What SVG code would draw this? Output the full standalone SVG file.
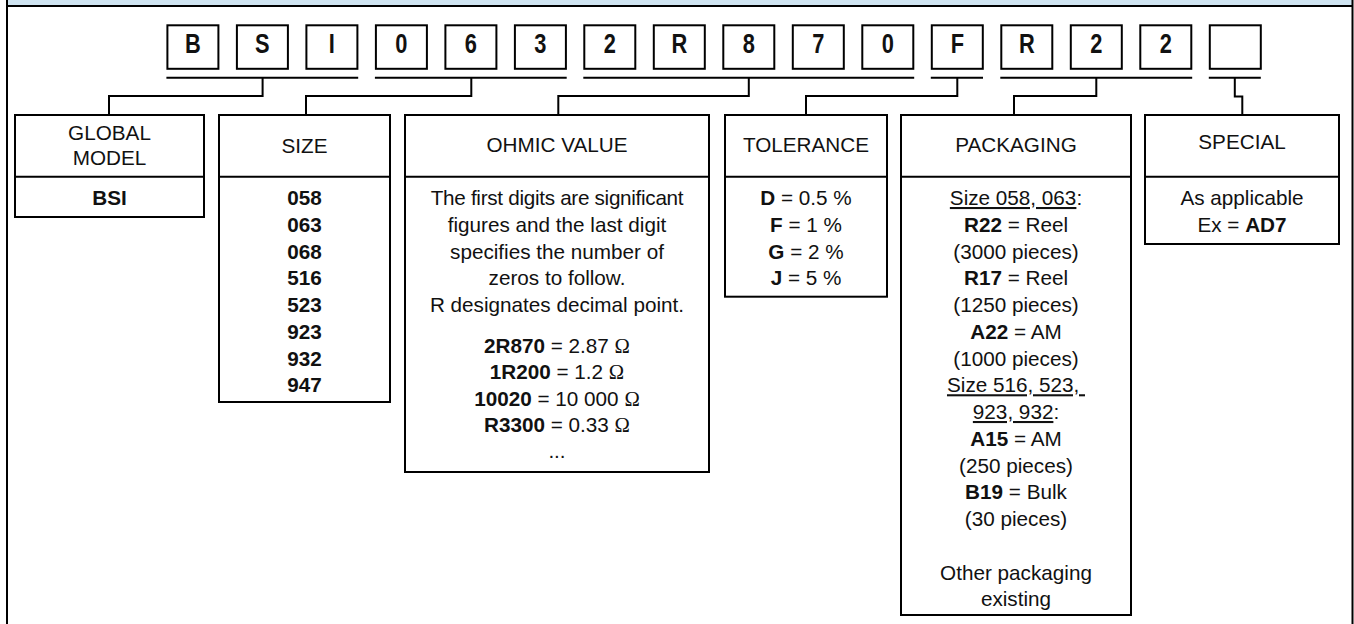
<svg xmlns="http://www.w3.org/2000/svg" width="1354" height="624" viewBox="0 0 1354 624">
<style>
.f{fill:none;stroke:#000;stroke-width:2}
.b{fill:#fff;stroke:#000;stroke-width:2}
.c{fill:none;stroke:#000;stroke-width:2}
.t{font-family:"Liberation Sans",Arial,Helvetica,sans-serif;font-size:20.7px;fill:#111;text-anchor:middle}
.k{font-family:"Liberation Sans",Arial,Helvetica,sans-serif;font-size:28px;font-weight:bold;fill:#111;text-anchor:middle}
.bd{font-weight:bold}
.om{font-family:"Liberation Serif","Times New Roman",serif}
.u{text-decoration:underline}
</style>
<rect width="1354" height="624" fill="#fff"/>
<g id="frame">
<rect x="7" y="0" width="1346" height="6" fill="#cfe4f1"/>
<line class="f" x1="7" y1="6" x2="1353" y2="6"/>
<line class="f" x1="7" y1="0" x2="7" y2="624"/>
<line class="f" x1="1352.5" y1="0" x2="1352.5" y2="624"/>
</g>
<g id="code">
<g id="c0"><rect class="b" x="167.4" y="25.3" width="51" height="43.5"/><text class="k" transform="translate(192.9,52.5) scale(0.78,1)">B</text></g>
<g id="c1"><rect class="b" x="236.9" y="25.3" width="51" height="43.5"/><text class="k" transform="translate(262.4,52.5) scale(0.78,1)">S</text></g>
<g id="c2"><rect class="b" x="306.4" y="25.3" width="51" height="43.5"/><text class="k" transform="translate(331.9,52.5) scale(0.78,1)">I</text></g>
<g id="c3"><rect class="b" x="375.9" y="25.3" width="51" height="43.5"/><text class="k" transform="translate(401.4,52.5) scale(0.78,1)">0</text></g>
<g id="c4"><rect class="b" x="445.4" y="25.3" width="51" height="43.5"/><text class="k" transform="translate(470.9,52.5) scale(0.78,1)">6</text></g>
<g id="c5"><rect class="b" x="514.9" y="25.3" width="51" height="43.5"/><text class="k" transform="translate(540.4,52.5) scale(0.78,1)">3</text></g>
<g id="c6"><rect class="b" x="584.3" y="25.3" width="51" height="43.5"/><text class="k" transform="translate(609.8,52.5) scale(0.78,1)">2</text></g>
<g id="c7"><rect class="b" x="653.8" y="25.3" width="51" height="43.5"/><text class="k" transform="translate(679.3,52.5) scale(0.78,1)">R</text></g>
<g id="c8"><rect class="b" x="723.3" y="25.3" width="51" height="43.5"/><text class="k" transform="translate(748.8,52.5) scale(0.78,1)">8</text></g>
<g id="c9"><rect class="b" x="792.8" y="25.3" width="51" height="43.5"/><text class="k" transform="translate(818.3,52.5) scale(0.78,1)">7</text></g>
<g id="c10"><rect class="b" x="862.3" y="25.3" width="51" height="43.5"/><text class="k" transform="translate(887.8,52.5) scale(0.78,1)">0</text></g>
<g id="c11"><rect class="b" x="931.8" y="25.3" width="51" height="43.5"/><text class="k" transform="translate(957.3,52.5) scale(0.78,1)">F</text></g>
<g id="c12"><rect class="b" x="1001.3" y="25.3" width="51" height="43.5"/><text class="k" transform="translate(1026.8,52.5) scale(0.78,1)">R</text></g>
<g id="c13"><rect class="b" x="1070.8" y="25.3" width="51" height="43.5"/><text class="k" transform="translate(1096.3,52.5) scale(0.78,1)">2</text></g>
<g id="c14"><rect class="b" x="1140.3" y="25.3" width="51" height="43.5"/><text class="k" transform="translate(1165.8,52.5) scale(0.78,1)">2</text></g>
<g id="c15"><rect class="b" x="1209.8" y="25.3" width="51" height="43.5"/></g>
</g>
<g id="connectors">
<path class="c" d="M166.4 77.7H358.2M262.6 77.7V96H109V114"/>
<path class="c" d="M374.9 77.7H566.7M471.3 77.7V96H306V114"/>
<path class="c" d="M583.3 77.7H914.2M748.8 77.7V96H558.3V114"/>
<path class="c" d="M930.8 77.7H983M957.3 77.7V96H806V114"/>
<path class="c" d="M1000.3 77.7H1192.2M1096.3 77.7V96H1014V114"/>
<path class="c" d="M1208.8 77.7H1260.8M1234.8 77.7V96.5H1242.3V114"/>
</g>
<g id="global">
<rect class="b" x="15" y="115" width="189" height="102"/>
<line class="f" x1="15" y1="176.7" x2="204" y2="176.7"/>
<text class="t" x="109.5" y="140">GLOBAL</text>
<text class="t" x="109.5" y="165">MODEL</text>
<text class="t bd" x="109.5" y="205">BSI</text>
</g>
<g id="size">
<rect class="b" x="219" y="115" width="171" height="287"/>
<line class="f" x1="219" y1="176.7" x2="390" y2="176.7"/>
<text class="t" x="304.5" y="153.4">SIZE</text>
<text class="t bd" x="304.5" y="205">058</text>
<text class="t bd" x="304.5" y="231.75">063</text>
<text class="t bd" x="304.5" y="258.5">068</text>
<text class="t bd" x="304.5" y="285.25">516</text>
<text class="t bd" x="304.5" y="312">523</text>
<text class="t bd" x="304.5" y="338.75">923</text>
<text class="t bd" x="304.5" y="365.5">932</text>
<text class="t bd" x="304.5" y="392.25">947</text>
</g>
<g id="ohmic">
<rect class="b" x="405" y="115" width="304" height="357"/>
<line class="f" x1="405" y1="176.7" x2="709" y2="176.7"/>
<text class="t" x="557" y="151.7">OHMIC VALUE</text>
<text class="t" x="557" y="205" letter-spacing="-0.3">The first digits are significant</text>
<text class="t" x="557" y="231.75">figures and the last digit</text>
<text class="t" x="557" y="258.5">specifies the number of</text>
<text class="t" x="557" y="285.25">zeros to follow.</text>
<text class="t" x="557" y="312">R designates decimal point.</text>
<text class="t" x="557" y="352.5"><tspan class="bd">2R870</tspan> = 2.87 <tspan class="om">Ω</tspan></text>
<text class="t" x="557" y="379"><tspan class="bd">1R200</tspan> = 1.2 <tspan class="om">Ω</tspan></text>
<text class="t" x="557" y="405.5"><tspan class="bd">10020</tspan> = 10 000 <tspan class="om">Ω</tspan></text>
<text class="t" x="557" y="432"><tspan class="bd">R3300</tspan> = 0.33 <tspan class="om">Ω</tspan></text>
<text class="t" x="557" y="458">...</text>
</g>
<g id="tolerance">
<rect class="b" x="725" y="115" width="162" height="181.7"/>
<line class="f" x1="725" y1="176.7" x2="887" y2="176.7"/>
<text class="t" x="806" y="151.7">TOLERANCE</text>
<text class="t" x="806" y="205"><tspan class="bd">D</tspan> = 0.5 %</text>
<text class="t" x="806" y="231.75"><tspan class="bd">F</tspan> = 1 %</text>
<text class="t" x="806" y="258.5"><tspan class="bd">G</tspan> = 2 %</text>
<text class="t" x="806" y="285.25"><tspan class="bd">J</tspan> = 5 %</text>
</g>
<g id="packaging">
<rect class="b" x="901" y="115" width="230" height="500"/>
<line class="f" x1="901" y1="176.7" x2="1131" y2="176.7"/>
<text class="t" x="1016" y="151.7">PACKAGING</text>
<text class="t" x="1016" y="205"><tspan class="u">Size 058, 063</tspan>:</text>
<text class="t" x="1016" y="231.75"><tspan class="bd">R22</tspan> = Reel</text>
<text class="t" x="1016" y="258.5">(3000 pieces)</text>
<text class="t" x="1016" y="285.25"><tspan class="bd">R17</tspan> = Reel</text>
<text class="t" x="1016" y="312">(1250 pieces)</text>
<text class="t" x="1016" y="338.75"><tspan class="bd">A22</tspan> = AM</text>
<text class="t" x="1016" y="365.5">(1000 pieces)</text>
<text class="t u" x="1016" y="392.25" xml:space="preserve">Size 516, 523, </text>
<text class="t" x="1016" y="419"><tspan class="u">923, 932</tspan>:</text>
<text class="t" x="1016" y="445.75"><tspan class="bd">A15</tspan> = AM</text>
<text class="t" x="1016" y="472.5">(250 pieces)</text>
<text class="t" x="1016" y="499.25"><tspan class="bd">B19</tspan> = Bulk</text>
<text class="t" x="1016" y="526">(30 pieces)</text>
<text class="t" x="1016" y="579.5">Other packaging</text>
<text class="t" x="1016" y="606.25">existing</text>
</g>
<g id="special">
<rect class="b" x="1145" y="115" width="194" height="129"/>
<line class="f" x1="1145" y1="176.7" x2="1339" y2="176.7"/>
<text class="t" x="1242" y="149">SPECIAL</text>
<text class="t" x="1242" y="205">As applicable</text>
<text class="t" x="1242" y="231.75">Ex = <tspan class="bd">AD7</tspan></text>
</g>
</svg>
